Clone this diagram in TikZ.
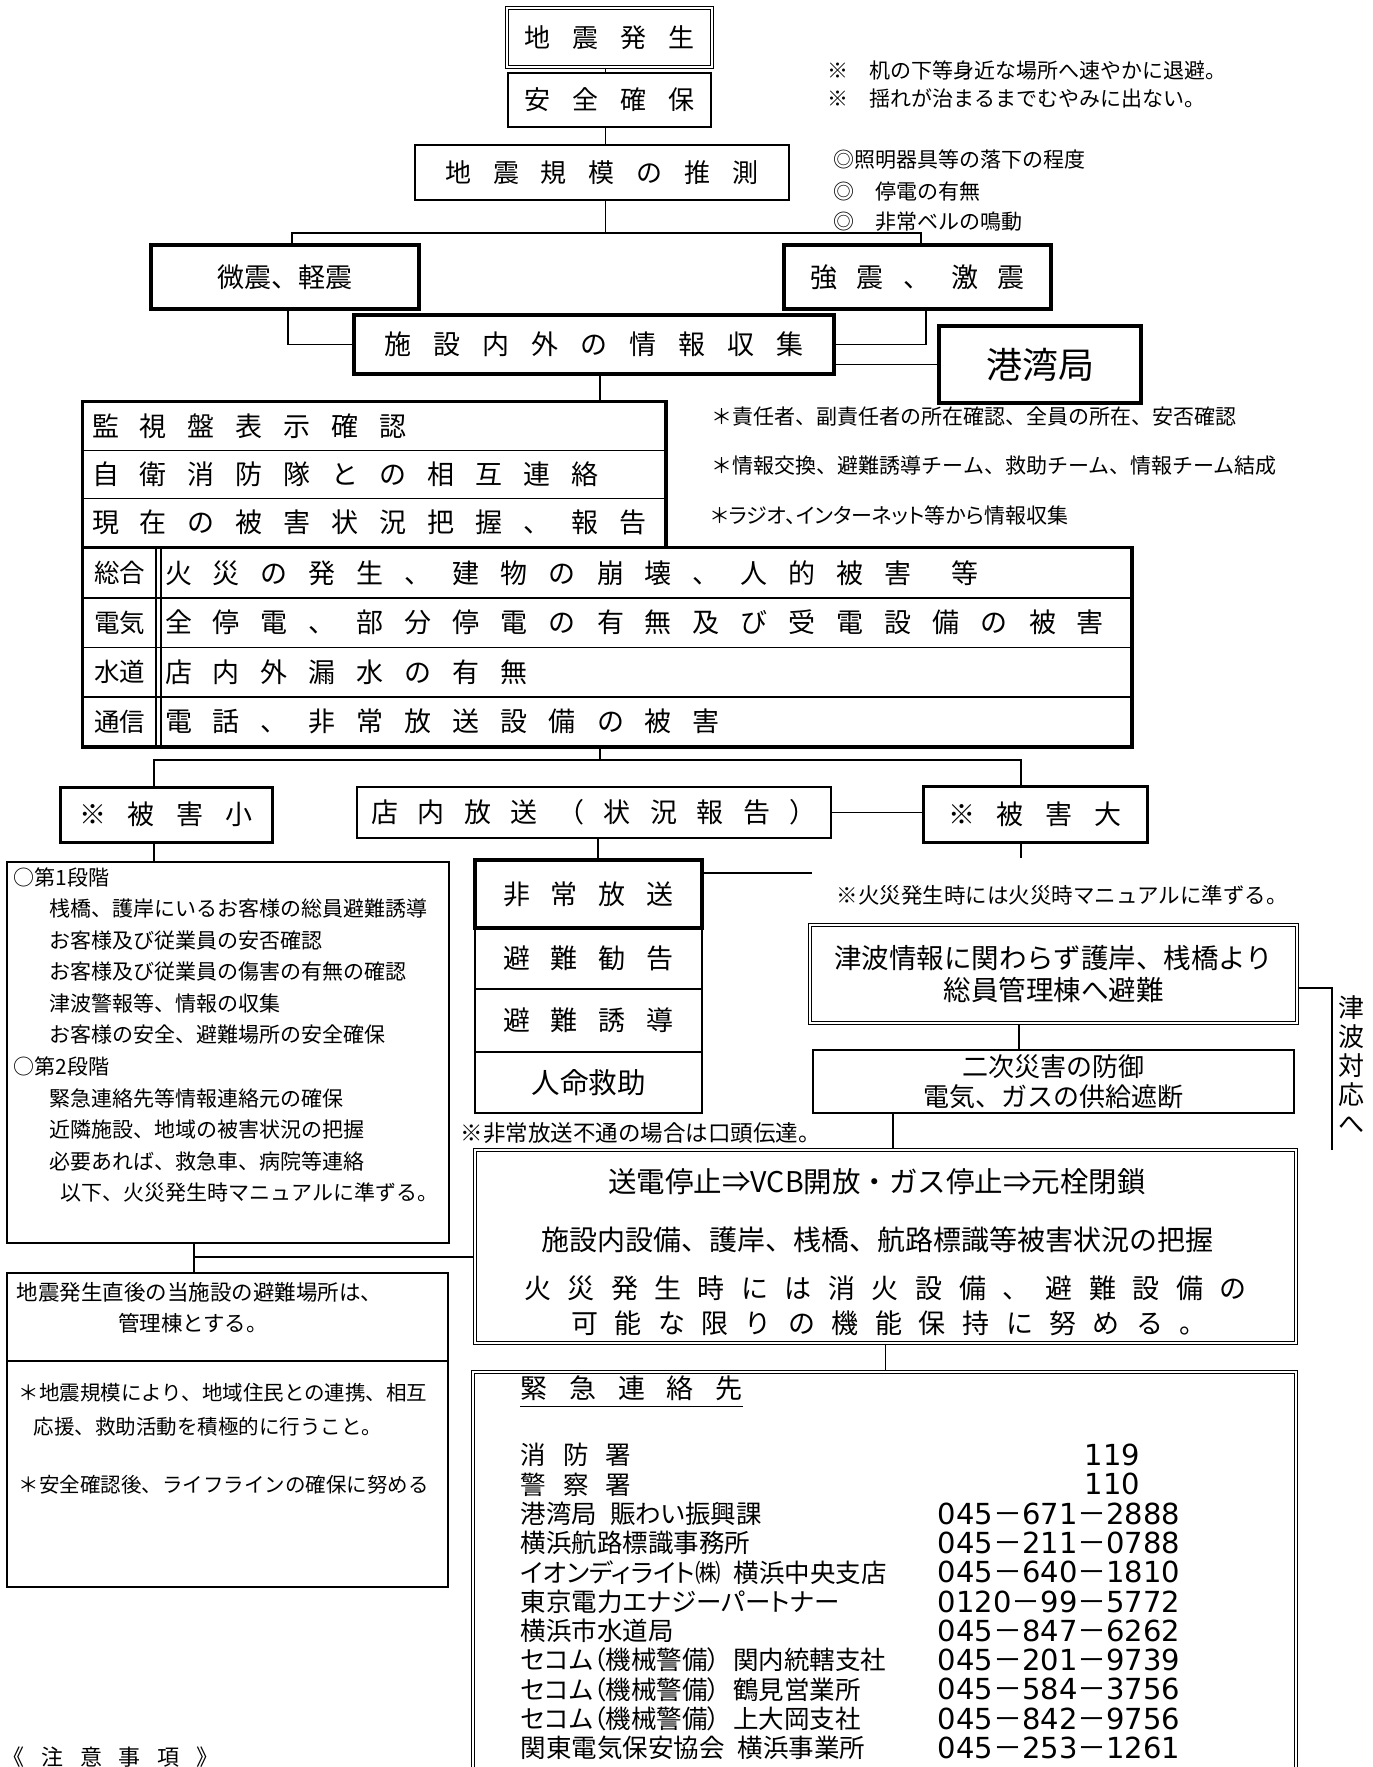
\documentclass[tikz,border=0pt]{standalone}
\usepackage{fontspec}
\setmainfont{Noto Sans CJK JP}
\newfontfamily\propfont[RawFeature=+palt]{Noto Sans CJK JP}
\newfontfamily\numfont{DejaVu Sans}

\makeatletter
% spaced-out box titles
\newcommand\spreadtext[2]{\def\spread@gap{\hspace{#1}}\edef\spread@tmp{#2}\expandafter\spread@next\spread@tmp\@nil}
\def\spread@next#1#2\@nil{#1\ifx\relax#2\relax\else\spread@gap\spread@next#2\@nil\fi}
\def\telno#1-#2-#3\relax{{\numfont#1}－{\numfont#2}－{\numfont#3}}
\makeatother

\begin{document}
\begin{tikzpicture}[x=1pt,y=-1pt,line width=1.5pt,
    box/.style={draw,line width=2pt,inner sep=0pt,font=\fontsize{27}{32}\selectfont},
    boldbox/.style={box,line width=3.5pt},
    twinbox/.style={box,line width=1.2pt,double,double distance=2.2pt},
    dims/.style 2 args={minimum width=#1,minimum height=#2},
    cell/.style={box,line width=1.5pt,inner xsep=9pt,text width=#1,align=left},
    note/.style={anchor=west,inner sep=0pt,font=\fontsize{21}{25}\selectfont},
    entry/.style={anchor=west,inner sep=0pt,font=\fontsize{25.5}{30}\propfont}]
    \useasboundingbox (0,0) rectangle (1373,1767);
    \clip (0,0) rectangle (1373,1767);

    % top chain
    \node[twinbox,dims={205}{59},font=\fontsize{26}{30}\selectfont] (quake) at (609.5,37.5) {\spreadtext{22pt}{地震発生}};
    \node[box,dims={203}{54},font=\fontsize{26}{30}\selectfont] (safety) at (609.5,100) {\spreadtext{22pt}{安全確保}};
    \node[box,line width=2.5pt,dims={374}{55},font=\fontsize{26}{30}\selectfont] (estimate) at (602,172.5) {\spreadtext{22pt}{地震規模の推測}};

    \node[note] (hint1) at (827,71) {※　机の下等身近な場所へ速やかに退避。};
    \node[note] (hint2) at (827,98) {※　揺れが治まるまでむやみに出ない。};
    \node[note] (sign1) at (833,160) {◎照明器具等の落下の程度};
    \node[note] (sign2) at (833,192) {◎　停電の有無};
    \node[note] (sign3) at (833,222) {◎　非常ベルの鳴動};

    \node[boldbox,dims={268}{64}] (minor) at (285,277) {微震、軽震};
    \node[boldbox,dims={267}{64}] (major) at (917.5,277) {\spreadtext{20pt}{強震、激震}};
    \node[boldbox,dims={480}{59}] (gather) at (594,344.5) {\spreadtext{22pt}{施設内外の情報収集}};
    \node[boldbox,dims={202}{77},font=\fontsize{36}{40}\selectfont] (harbor) at (1040,364.5) {港湾局};

    \coordinate (fork1) at (605.5,233);
    \draw ([xshift=-4pt]quake.south) -- ([xshift=-4pt]safety.north);
    \draw ([xshift=-4pt]safety.south) -- ([xshift=-4pt]safety.south |- estimate.north);
    \draw (estimate.south -| fork1) -- (fork1);
    \draw ([xshift=7pt]minor.north) |- (fork1) -| ([xshift=3.5pt]major.north);
    \draw ([xshift=3pt]minor.south) |- (gather.west);
    \draw ([xshift=8.5pt]major.south) |- (gather.east);
    \draw (gather.east |- harbor.west) -- (harbor.west);

    % checks
    \foreach \body [count=\m from 0] in {監視盤表示確認,自衛消防隊との相互連絡,現在の被害状況把握、報告}
        \node[cell=564pt,minimum height=48.3pt] (mon\m) at (374,{426.2+48.3*\m}) {\spreadtext{21pt}{\body}};
    \draw[line width=3.5pt] (mon0.north west) rectangle (mon2.south east);
    \draw ([xshift=6pt]gather.south) -- ([xshift=6pt]gather.south |- mon0.north);

    \node[note] (task1) at (711,417) {＊責任者、副責任者の所在確認、全員の所在、安否確認};
    \node[note] (task2) at (711,466) {＊情報交換、避難誘導チーム、救助チーム、情報チーム結成};
    \node[note,font=\fontsize{21}{25}\propfont] (task3) at (711,515) {＊ラジオ、インターネット等から情報収集};

    \foreach \lab/\body [count=\r from 0] in {
        総合/{\spreadtext{21pt}{火災の発生、建物の崩壊、人的被害}\hspace{40pt}等},
        電気/{\spreadtext{21pt}{全停電、部分停電の有無及び受電設備の被害}},
        水道/{\spreadtext{21pt}{店内外漏水の有無}},
        通信/{\spreadtext{21pt}{電話、非常放送設備の被害}}}
    {
        \node[box,line width=1.5pt,dims={73}{49.5},font=\fontsize{25.5}{30}\selectfont] (lab\r) at (119.5,{573+49.5*\r}) {\lab};
        \node[cell=957pt,minimum height=49.5pt] (row\r) at (643.5,{573+49.5*\r}) {\body};
    }
    \draw ([xshift=4pt]lab0.north east) -- ([xshift=4pt]lab3.south east);
    \draw[line width=3.5pt] (lab0.north west) rectangle (row3.south east);

    % damage level
    \node[boldbox,line width=3pt,dims={212}{55}] (small) at (166,814.5) {\spreadtext{22pt}{※被害小}};
    \node[box,line width=1.5pt,dims={474}{51}] (bcast) at (594,812.5) {\spreadtext{19.5pt}{店内放送（状況報告）}};
    \node[boldbox,line width=3pt,dims={224}{56}] (large) at (1035,814) {\spreadtext{22pt}{※被害大}};

    \coordinate (fork2) at (600,760);
    \draw (row3.south -| fork2) -- (fork2);
    \draw ([xshift=-12pt]small.north) |- (fork2) -| ([xshift=-14pt]large.north);
    \draw (bcast.east) -- (bcast.east -| large.west);

    % small damage
    \node[box,dims={442}{381}] (stage) at (228,1052.5) {};
    \foreach \x/\txt [count=\k from 0] in {
        13/○第1段階,
        49/桟橋、護岸にいるお客様の総員避難誘導,
        49/お客様及び従業員の安否確認,
        49/お客様及び従業員の傷害の有無の確認,
        49/津波警報等、情報の収集,
        49/お客様の安全、避難場所の安全確保,
        13/○第2段階,
        49/緊急連絡先等情報連絡元の確保,
        49/近隣施設、地域の被害状況の把握,
        49/必要あれば、救急車、病院等連絡,
        60/以下、火災発生時マニュアルに準ずる。}
        \node[note] (stage\k) at (\x,{877+31.6*\k}) {\txt};
    \draw ([xshift=-12pt]small.south) -- ([xshift=-12pt]small.south |- stage.north);

    % announcements
    \node[box,line width=1.5pt,dims={227}{61}] (pa2) at (588.5,958.5) {\spreadtext{21pt}{避難勧告}};
    \node[box,line width=1.5pt,dims={227}{63}] (pa3) at (588.5,1020.5) {\spreadtext{21pt}{避難誘導}};
    \node[box,line width=1.5pt,dims={227}{61},font=\fontsize{28.5}{32}\selectfont] (pa4) at (588.5,1082.5) {人命救助};
    \node[boldbox,dims={227}{68}] (pa1) at (588.5,894) {\spreadtext{21pt}{非常放送}};
    \node[note,font=\fontsize{22.5}{26}\selectfont] (panote) at (460,1133) {※非常放送不通の場合は口頭伝達。};

    \coordinate (paend) at (812,873);
    \coordinate (largeend) at (1021,858);
    \draw ([xshift=4pt]bcast.south) -- ([xshift=4pt]bcast.south |- pa1.north);
    \draw (pa1.east |- paend) -- (paend);
    \draw (large.south -| largeend) -- (largeend);

    % large damage
    \node[note,font=\fontsize{21.5}{25}\selectfont] (firenote) at (836,895) {※火災発生時には火災時マニュアルに準ずる。};
    \node[twinbox,dims={487}{98},align=center,font=\fontsize{27.5}{32}\selectfont] (tsunami) at (1053.5,974) {津波情報に関わらず護岸、桟橋より\\総員管理棟へ避難};
    \node[box,dims={481}{63},align=center,font=\fontsize{26}{30}\selectfont] (secondary) at (1053.5,1081.5) {二次災害の防御\\電気、ガスの供給遮断};
    \node[inner sep=0pt,align=center,font=\fontsize{26}{29}\selectfont] (tsulabel) at (1351,1065) {津\\波\\対\\応\\へ};

    \coordinate (tsuend) at (1332,1150);
    \draw ([yshift=-14pt]tsunami.east) -| (tsuend);
    \draw ([xshift=-34.5pt]tsunami.south) -- ([xshift=-34.5pt]tsunami.south |- secondary.north);

    \node[twinbox,dims={821}{193}] (shutdown) at (885.5,1246.5) {};
    \node[inner sep=0pt,font=\fontsize{28.5}{34}\selectfont] (cutoff) at (877,1182) {送電停止⇒VCB開放・ガス停止⇒元栓閉鎖};
    \node[inner sep=0pt,font=\fontsize{28}{34}\selectfont] (survey) at (877,1240) {施設内設備、護岸、桟橋、航路標識等被害状況の把握};
    \node[inner sep=0pt,font=\fontsize{27}{32}\selectfont] (keep1) at (885.5,1288) {\spreadtext{16.5pt}{火災発生時には消火設備、避難設備の}};
    \node[inner sep=0pt,font=\fontsize{27}{32}\selectfont] (keep2) at (889,1323) {\spreadtext{16.5pt}{可能な限りの機能保持に努める。}};
    \draw ([xshift=-160.5pt]secondary.south) -- ([xshift=-160.5pt]secondary.south |- shutdown.north);

    % refuge
    \node[box,dims={441}{314}] (refuge) at (227.5,1430) {};
    \coordinate (refsplit) at (0,1361);
    \draw (refuge.west |- refsplit) -- (refuge.east |- refsplit);
    \node[note,font=\fontsize{21.5}{25}\selectfont] (place1) at (16,1292) {地震発生直後の当施設の避難場所は、};
    \node[inner sep=0pt,font=\fontsize{21.5}{25}\selectfont] (place2) at (193,1323) {管理棟とする。};
    \node[note,font=\fontsize{20.5}{25}\selectfont] (coop1) at (18,1393) {＊地震規模により、地域住民との連携、相互};
    \node[note,font=\fontsize{20.5}{25}\selectfont] (coop2) at (33,1427) {応援、救助活動を積極的に行うこと。};
    \node[note,font=\fontsize{20.5}{25}\selectfont] (coop3) at (18,1485) {＊安全確認後、ライフラインの確保に努める};

    \coordinate (tee) at (194,1257);
    \draw ([xshift=-34pt]stage.south) -- ([xshift=-34pt]stage.south |- refuge.north);
    \draw (tee) -- (tee -| shutdown.west);

    % contacts
    \node[twinbox,dims={823}{408}] (contacts) at (884.5,1576) {};
    \draw (shutdown.south) -- (shutdown.south |- contacts.north);
    \node[inner sep=0pt,anchor=west,font=\fontsize{27}{32}\selectfont] (head) at (520,1388) {\spreadtext{21.7pt}{緊急連絡先}};
    \draw ([yshift=-5pt]head.south west) -- ([yshift=-5pt]head.south east);

    \node[entry] (who0) at (520,1455) {\spreadtext{17pt}{消防署}};
    \node[entry,font=\fontsize{29}{32}\numfont] (tel0) at (1084,1455) {119};
    \node[entry] (who1) at (520,1484.3) {\spreadtext{17pt}{警察署}};
    \node[entry,font=\fontsize{29}{32}\numfont] (tel1) at (1084,1484.3) {110};
    \foreach \who/\phone [count=\k from 2] in {
        港湾局\enspace 賑わい振興課/045-671-2888,
        横浜航路標識事務所/045-211-0788,
        イオンディライト㈱\enspace 横浜中央支店/045-640-1810,
        東京電力エナジーパートナー/0120-99-5772,
        横浜市水道局/045-847-6262,
        セコム（機械警備）\enspace 関内統轄支社/045-201-9739,
        セコム（機械警備）\enspace 鶴見営業所/045-584-3756,
        セコム（機械警備）\enspace 上大岡支社/045-842-9756,
        関東電気保安協会\enspace 横浜事業所/045-253-1261}
    {
        \node[entry] (who\k) at (520,{1455+29.3*\k}) {\who};
        \node[entry,font=\fontsize{29}{32}\selectfont] (tel\k) at (937,{1455+29.3*\k}) {\expandafter\telno\phone\relax};
    }

    \node[inner sep=0pt,anchor=west,font=\fontsize{22}{26}\selectfont] (caution) at (2,1757) {\spreadtext{16.7pt}{《注意事項》}};
\end{tikzpicture}
\end{document}
